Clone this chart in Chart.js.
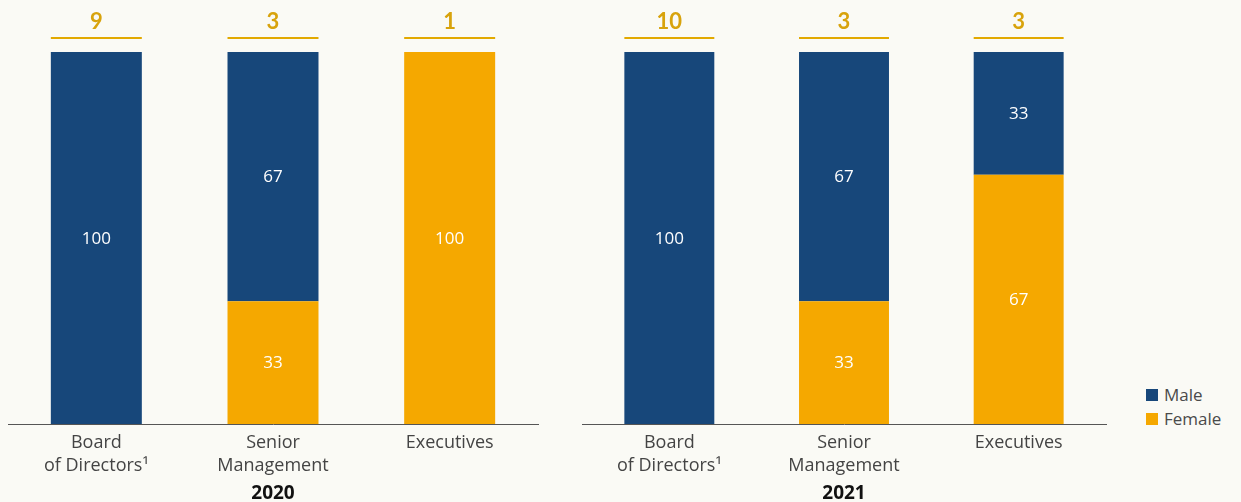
<!DOCTYPE html>
<html>
<head>
<meta charset="utf-8">
<script src="https://cdn.jsdelivr.net/npm/chart.js@4"></script>
<style>
  html, body { margin: 0; padding: 0; background: #fafaf5; width: 1241px; height: 502px; overflow: hidden; }
  canvas { position: absolute; top: 0; }
  #legend { position: absolute; left: 1146px; top: 383px; font-family: "Open Sans", Lato, sans-serif; font-size: 17px; color: #4a4a4a; }
  #legend div { height: 24px; line-height: 22px; display: flex; align-items: center; }
  #legend span.box { display: inline-block; width: 12px; height: 12px; margin-right: 6px; }
</style>
</head>
<body>
<canvas id="c1" width="560" height="502" style="left:0px"></canvas>
<canvas id="c2" width="580" height="502" style="left:560px"></canvas>
<div id="legend"></div>
<script>
const categories = [["Board", "of Directors¹"], ["Senior", "Management"], ["Executives"]];
const years = ["2020", "2021"];
const male2020 = [100, 67, 0];
const female2020 = [0, 33, 100];
const male2021 = [100, 67, 33];
const female2021 = [0, 33, 67];
const totals2020 = [9, 3, 1];
const totals2021 = [10, 3, 3];
const seriesNames = ["Male", "Female"];

const NAVY = "#17477a";
const ORANGE = "#f5a800";
const GOLD = "#d8a30c";
const FONT = "'Open Sans', Lato, sans-serif";
const NUMFONT = "Lato, 'Open Sans', sans-serif";

const labelPlugin = {
  id: "labels",
  afterDatasetsDraw(chart, args, opts) {
    const ctx = chart.ctx;
    ctx.save();
    ctx.textAlign = "center";
    ctx.textBaseline = "middle";
    ctx.font = "17px " + FONT;
    ctx.fillStyle = "#ffffff";
    chart.data.datasets.forEach((ds, di) => {
      const meta = chart.getDatasetMeta(di);
      meta.data.forEach((el, i) => {
        const v = ds.data[i];
        if (v > 0) ctx.fillText(String(v), el.x, (el.y + el.base) / 2 + 1);
      });
    });
    const totals = opts.totals;
    const meta = chart.getDatasetMeta(0);
    const top = chart.chartArea.top;
    meta.data.forEach((el, i) => {
      const w = el.width;
      ctx.strokeStyle = "#e2a900";
      ctx.lineWidth = 2;
      ctx.beginPath();
      ctx.moveTo(el.x - w / 2, top - 14);
      ctx.lineTo(el.x + w / 2, top - 14);
      ctx.stroke();
      ctx.fillStyle = GOLD;
      ctx.font = "bold 22px " + NUMFONT;
      ctx.fillText(String(totals[i]), el.x, top - 30);
    });
    ctx.restore();
  }
};

function makeChart(id, male, female, totals, year, padL, padR) {
  return new Chart(document.getElementById(id), {
    type: "bar",
    data: {
      labels: categories,
      datasets: [
        { label: seriesNames[1], data: female, backgroundColor: ORANGE, borderWidth: 0 },
        { label: seriesNames[0], data: male, backgroundColor: NAVY, borderWidth: 0 }
      ]
    },
    options: {
      responsive: false,
      animation: false,
      devicePixelRatio: 1,
      layout: { padding: { top: 52, left: padL, right: padR, bottom: 0 } },
      datasets: { bar: { categoryPercentage: 1, barPercentage: 0.515 } },
      plugins: {
        legend: { display: false },
        tooltip: { enabled: false },
        labels: { totals: totals }
      },
      scales: {
        x: {
          stacked: true,
          grid: { display: false, drawTicks: false },
          border: { display: true, color: "#555555", width: 1 },
          ticks: { color: "#444444", font: { family: FONT, size: 18, lineHeight: 1.28 }, padding: 7.4, maxRotation: 0, autoSkip: false },
          title: { display: true, text: year, color: "#111111", font: { family: FONT, size: 19, weight: "bold", lineHeight: 0.9 }, padding: { top: 0, bottom: 0 } }
        },
        y: { stacked: true, display: false, min: 0, max: 100 }
      }
    },
    plugins: [labelPlugin]
  });
}

makeChart("c1", male2020, female2020, totals2020, years[0], 8, 22);
makeChart("c2", male2021, female2021, totals2021, years[1], 22, 34);

const legend = document.getElementById("legend");
[[seriesNames[0], NAVY], [seriesNames[1], ORANGE]].forEach(([name, color]) => {
  const d = document.createElement("div");
  d.innerHTML = '<span class="box" style="background:' + color + '"></span>' + name;
  legend.appendChild(d);
});
</script>
</body>
</html>
